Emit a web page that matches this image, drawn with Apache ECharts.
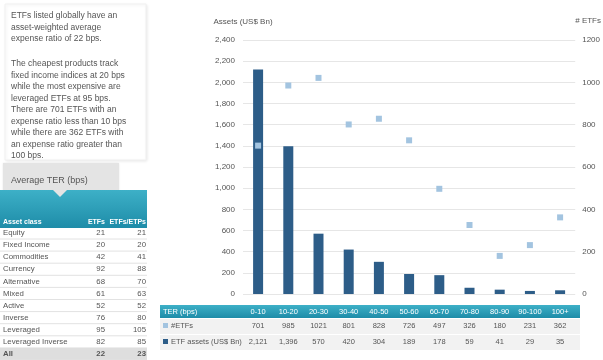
<!DOCTYPE html>
<html><head><meta charset="utf-8">
<script src="https://cdn.jsdelivr.net/npm/echarts@6/dist/echarts.min.js"></script>
<style>html,body{margin:0;padding:0;background:#fff}#c{width:603px;height:360px}</style>
</head><body><div id="c"></div>
<script>
const categories = ['0-10','10-20','20-30','30-40','40-50','50-60','60-70','70-80','80-90','90-100','100+'];
const etfCounts = [701,985,1021,801,828,726,497,326,180,231,362];
const etfAssets = [2121,1396,570,420,304,189,178,59,41,29,35];
const assetClasses = ['Equity','Fixed Income','Commodities','Currency','Alternative','Mixed','Active','Inverse','Leveraged','Leveraged Inverse','All'];
const terETFs = [21,20,42,92,68,61,52,76,95,82,22];
const terETFPs = [21,20,41,88,70,63,52,80,105,85,23];
const para1 = 'ETFs listed globally have an\nasset-weighted average\nexpense ratio of 22 bps.';
const para2 = 'The cheapest products track\nfixed income indices at 20 bps\nwhile the most expensive are\nleveraged ETFs at 95 bps.\nThere are 701 ETFs with an\nexpense ratio less than 10 bps\nwhile there are 362 ETFs with\nan expense ratio greater than\n100 bps.';

const FONT = 'Liberation Sans';
const BAR = '#2d5d88', DOT = '#a3c4e0', TXT = '#555';
const teal = new echarts.graphic.LinearGradient(0,0,0,1,[{offset:0,color:'#3db0c7'},{offset:1,color:'#1e8ca8'}]);
const fmt = v => v.toLocaleString('en-US');

const g = [];
// text box
g.push({type:'rect',shape:{x:5,y:4,width:141,height:156},style:{fill:'#fff',stroke:'#f0f0f0',shadowBlur:3,shadowOffsetX:1,shadowOffsetY:1,shadowColor:'rgba(0,0,0,0.08)'}});
g.push({type:'text',x:11,y:10,style:{text:para1,font:'8.5px '+FONT,fill:TXT,lineHeight:11.5}});
g.push({type:'text',x:11,y:58,style:{text:para2,font:'8.5px '+FONT,fill:TXT,lineHeight:11.5}});
// tab
g.push({type:'rect',shape:{x:3,y:163,width:116,height:28},style:{fill:'#e4e4e4',shadowBlur:2,shadowColor:'rgba(0,0,0,0.1)'}});
g.push({type:'text',x:11,y:181,style:{text:'Average TER (bps)',font:'9px '+FONT,fill:TXT,verticalAlign:'middle'}});
g.push({type:'rect',shape:{x:0,y:190,width:147,height:38},style:{fill:teal}});
g.push({type:'polygon',shape:{points:[[53,190],[67,190],[60,197]]},style:{fill:'#e4e4e4'}});
// left table header
const rowY = i => 233 + i*12.1;
const HF = 'bold 7px '+FONT;
g.push({type:'text',x:3,y:222,style:{text:'Asset class',font:HF,fill:'#fff',verticalAlign:'middle'}});
g.push({type:'text',x:105,y:222,style:{text:'ETFs',font:HF,fill:'#fff',align:'right',verticalAlign:'middle'}});
g.push({type:'text',x:146,y:222,style:{text:'ETFs/ETPs',font:HF,fill:'#fff',align:'right',verticalAlign:'middle'}});
assetClasses.forEach((name,i)=>{
  const y = rowY(i);
  const last = i === assetClasses.length-1;
  if (last) g.push({type:'rect',shape:{x:0,y:y-6,width:147,height:13},style:{fill:'#dedede'}});
  g.push({type:'line',shape:{x1:0,y1:y+6,x2:147,y2:y+6},style:{stroke:'#e2e2e2',lineWidth:1}});
  const f = (last?'bold ':'')+'7.8px '+FONT;
  g.push({type:'text',x:3,y:y,style:{text:name,font:f,fill:TXT,verticalAlign:'middle'}});
  g.push({type:'text',x:105,y:y,style:{text:String(terETFs[i]),font:f,fill:TXT,align:'right',verticalAlign:'middle'}});
  g.push({type:'text',x:146,y:y,style:{text:String(terETFPs[i]),font:f,fill:TXT,align:'right',verticalAlign:'middle'}});
});
// right axis title
g.push({type:'text',x:601,y:21,style:{text:'# ETFs',font:'8px '+FONT,fill:TXT,align:'right',verticalAlign:'middle'}});
// bottom table backgrounds
g.push({type:'rect',shape:{x:160,y:305,width:420,height:13},style:{fill:teal}});
g.push({type:'rect',shape:{x:160,y:319,width:420,height:15},style:{fill:'#f2f2f2'}});
g.push({type:'rect',shape:{x:160,y:335,width:420,height:15},style:{fill:'#f2f2f2'}});
g.push({type:'text',x:163,y:312,style:{text:'TER (bps)',font:'7.5px '+FONT,fill:'#fff',verticalAlign:'middle'}});
g.push({type:'rect',shape:{x:163,y:323,width:5,height:5},style:{fill:DOT}});
g.push({type:'text',x:171,y:326,style:{text:'#ETFs',font:'7.5px '+FONT,fill:TXT,verticalAlign:'middle'}});
g.push({type:'rect',shape:{x:163,y:339,width:5,height:5},style:{fill:BAR}});
g.push({type:'text',x:171,y:342,style:{text:'ETF assets (US$ Bn)',font:'7.5px '+FONT,fill:TXT,verticalAlign:'middle'}});

const chart = echarts.init(document.getElementById('c'));
chart.setOption({
  animation:false,
  textStyle:{fontFamily:FONT},
  grid:{left:243,right:26,top:40,bottom:66},
  xAxis:{type:'category',data:categories,
    axisLine:{show:false},axisTick:{show:false},
    axisLabel:{interval:0,margin:12,
      formatter:(v,i)=>'{a|'+v+'}\n{b|'+etfCounts[i]+'}\n{c|'+fmt(etfAssets[i])+'}',
      rich:{a:{color:'#fff',fontSize:7.5,lineHeight:12,fontFamily:FONT},
            b:{color:TXT,fontSize:7.5,lineHeight:16,fontFamily:FONT},
            c:{color:TXT,fontSize:7.5,lineHeight:16,fontFamily:FONT}}}},
  yAxis:[
    {type:'value',min:0,max:2400,interval:200,name:'Assets (US$ Bn)',nameGap:14,
     nameTextStyle:{color:TXT,fontSize:8,align:'center'},
     axisLabel:{color:TXT,fontSize:8,margin:8,formatter:v=>fmt(v)},
     axisLine:{show:false},axisTick:{show:false},
     splitLine:{lineStyle:{color:'#e6e6e6'}}},
    {type:'value',min:0,max:1200,interval:200,
     axisLabel:{color:TXT,fontSize:8,margin:7,formatter:v=>String(v)},
     axisLine:{show:false},axisTick:{show:false},splitLine:{show:false}}
  ],
  series:[
    {type:'bar',data:etfAssets,yAxisIndex:0,barWidth:10,itemStyle:{color:BAR}},
    {type:'scatter',data:etfCounts,yAxisIndex:1,symbol:'rect',symbolSize:6,itemStyle:{color:DOT,opacity:1}}
  ],
  graphic:g
});
</script></body></html>
